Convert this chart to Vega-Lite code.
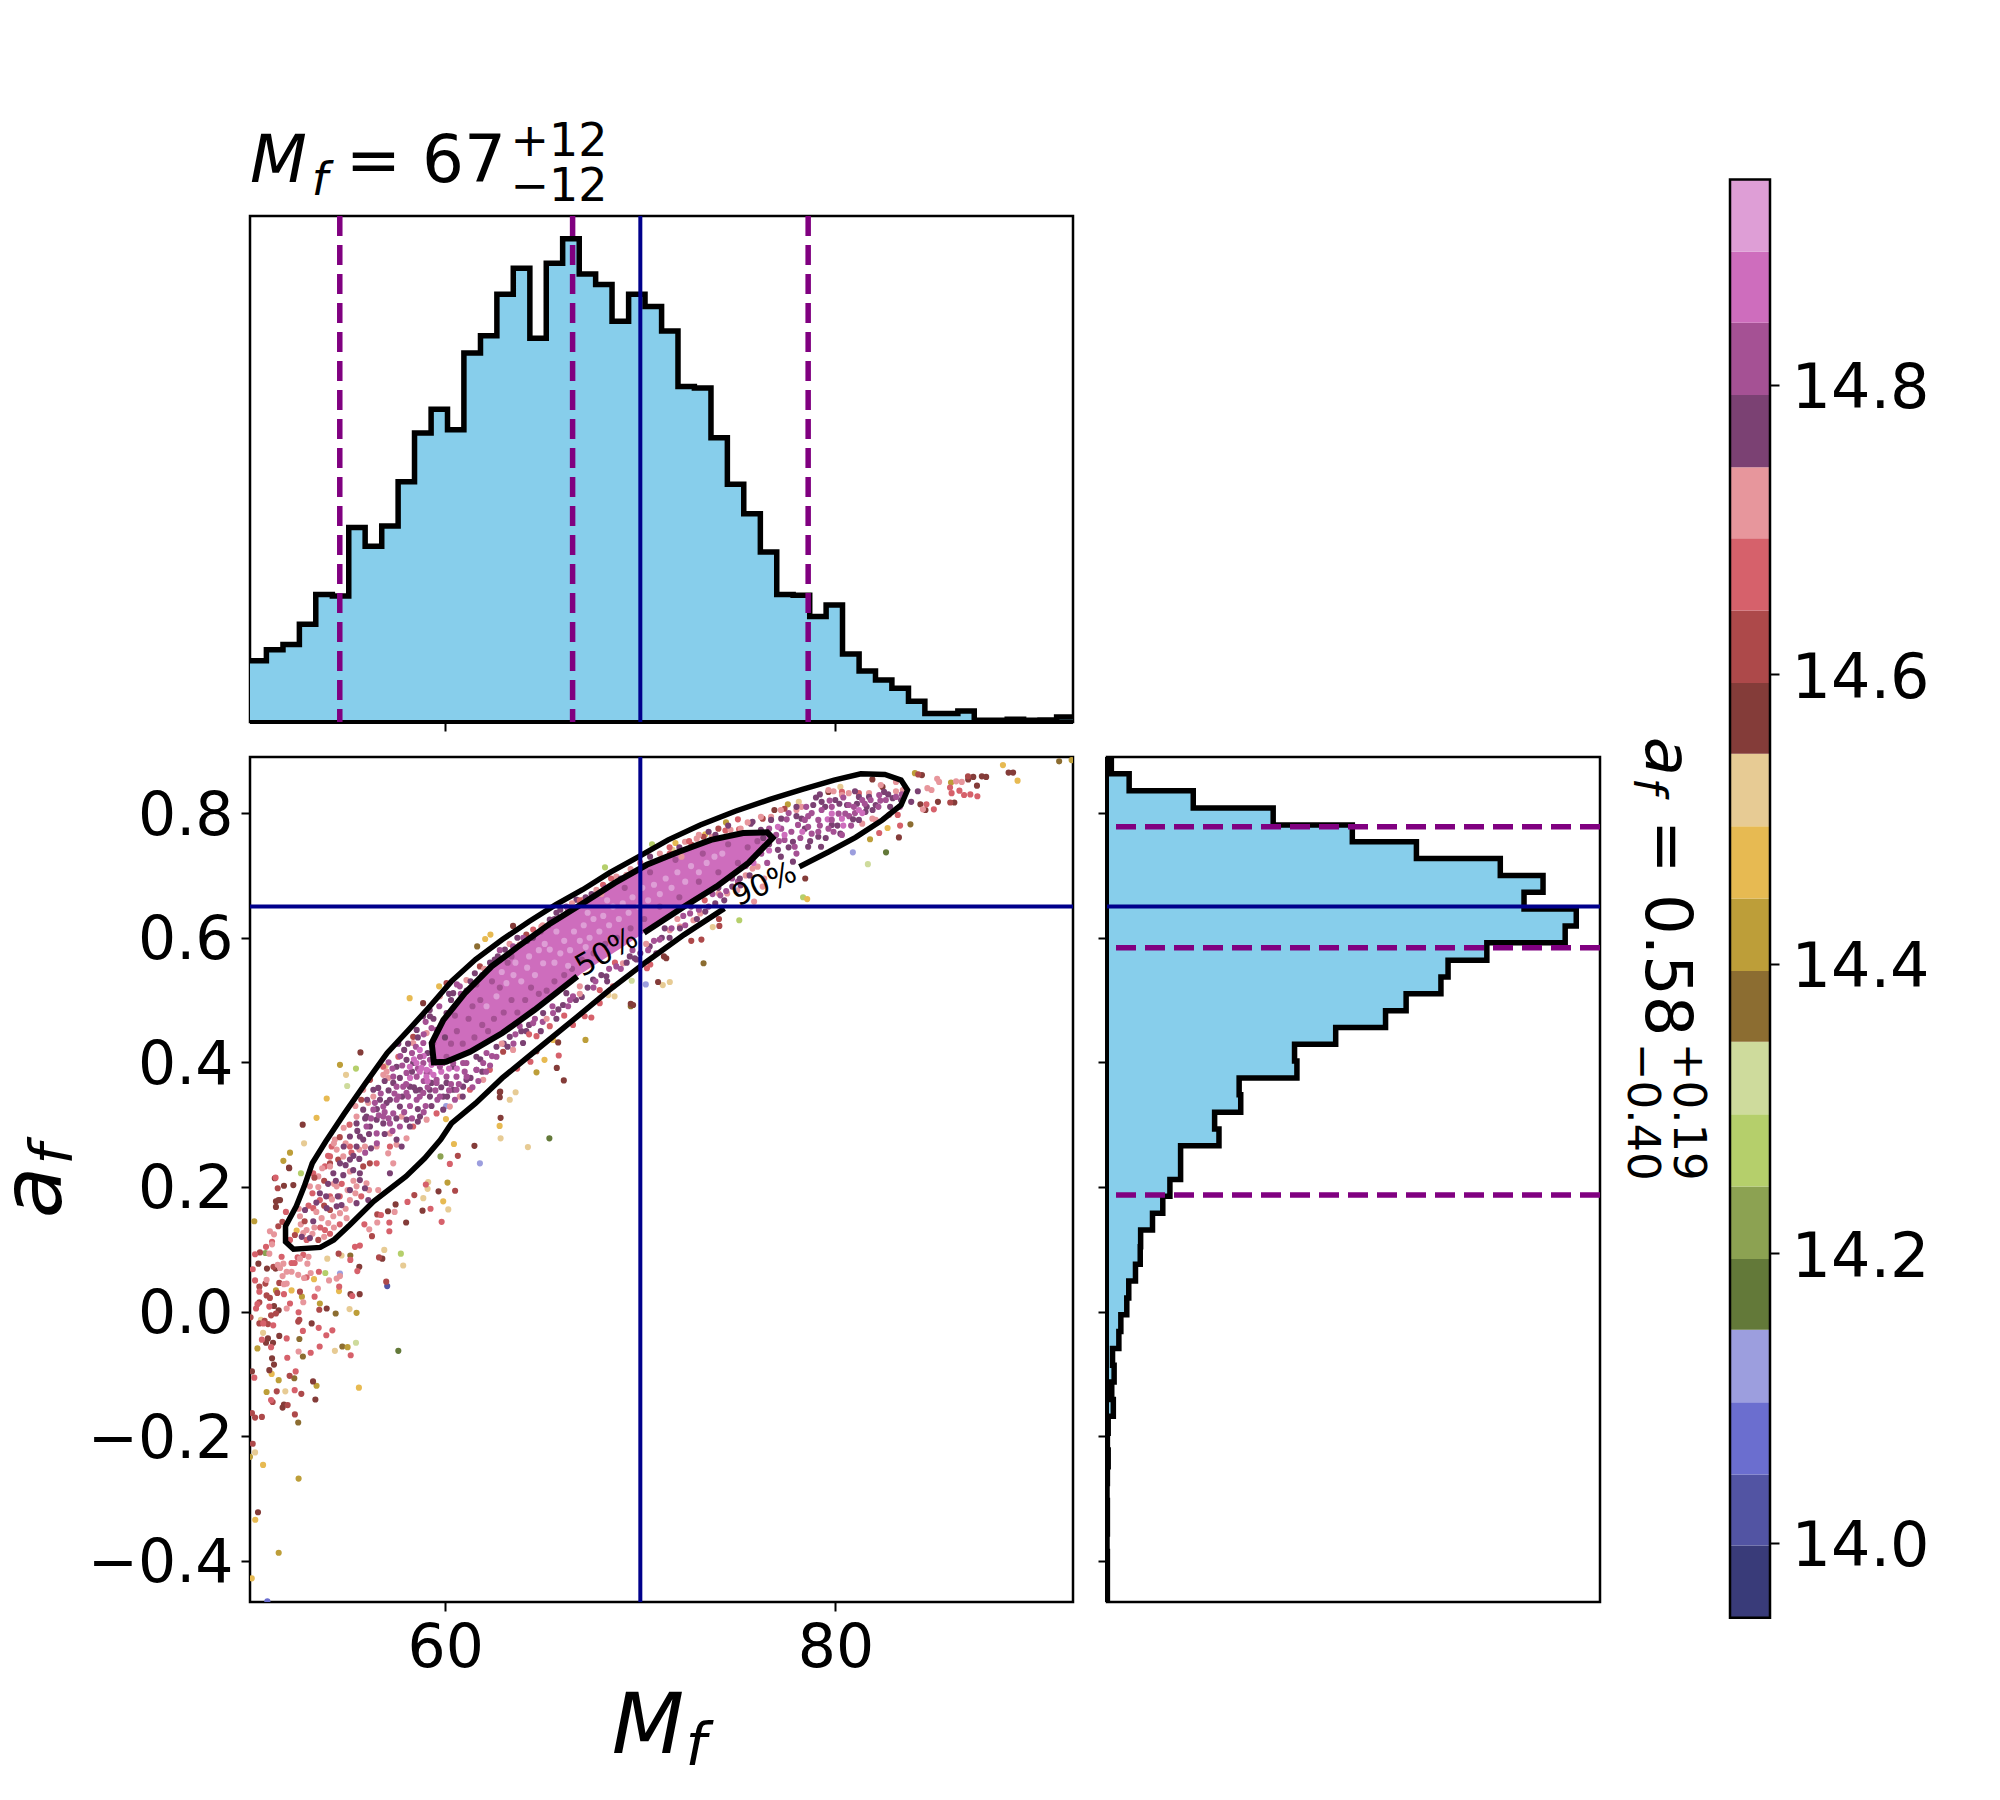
{
"$schema":"https://vega.github.io/schema/vega-lite/v6.json",
"background":"white",
"autosize":{"type":"none"},
"padding":{"left":250,"top":216,"right":1750,"bottom":1584},
"bounds":"flush",
"spacing":1480,
"datasets":{
"histM":[{"m":50.00,"c":150},{"m":50.84,"c":177},{"m":51.69,"c":190},{"m":52.53,"c":240},{"m":53.37,"c":313},{"m":54.22,"c":309},{"m":55.06,"c":477},{"m":55.90,"c":431},{"m":56.75,"c":481},{"m":57.59,"c":589},{"m":58.43,"c":709},{"m":59.28,"c":767},{"m":60.12,"c":717},{"m":60.96,"c":905},{"m":61.81,"c":947},{"m":62.65,"c":1049},{"m":63.49,"c":1113},{"m":64.34,"c":941},{"m":65.18,"c":1125},{"m":66.02,"c":1185},{"m":66.87,"c":1099},{"m":67.71,"c":1073},{"m":68.55,"c":983},{"m":69.40,"c":1049},{"m":70.24,"c":1019},{"m":71.09,"c":959},{"m":71.93,"c":823},{"m":72.77,"c":819},{"m":73.62,"c":697},{"m":74.46,"c":583},{"m":75.30,"c":511},{"m":76.15,"c":417},{"m":76.99,"c":313},{"m":77.83,"c":311},{"m":78.68,"c":259},{"m":79.52,"c":287},{"m":80.36,"c":167},{"m":81.21,"c":125},{"m":82.05,"c":103},{"m":82.89,"c":83},{"m":83.74,"c":51},{"m":84.58,"c":21},{"m":85.42,"c":21},{"m":86.27,"c":27},{"m":87.11,"c":4},{"m":87.95,"c":4},{"m":88.80,"c":7},{"m":89.64,"c":4},{"m":90.48,"c":5},{"m":91.33,"c":12},{"m":92.17,"c":12}],
"histA":[{"a":-0.466,"c":1},{"a":-0.439,"c":1},{"a":-0.412,"c":1},{"a":-0.385,"c":0},{"a":-0.357,"c":1},{"a":-0.330,"c":1},{"a":-0.303,"c":0},{"a":-0.276,"c":1},{"a":-0.249,"c":3},{"a":-0.222,"c":1},{"a":-0.195,"c":3},{"a":-0.168,"c":16},{"a":-0.141,"c":12},{"a":-0.113,"c":18},{"a":-0.086,"c":14},{"a":-0.059,"c":30},{"a":-0.032,"c":35},{"a":-0.005,"c":50},{"a":0.022,"c":55},{"a":0.049,"c":72},{"a":0.076,"c":84},{"a":0.104,"c":85},{"a":0.131,"c":115},{"a":0.158,"c":141},{"a":0.185,"c":159},{"a":0.212,"c":186},{"a":0.239,"c":186},{"a":0.266,"c":283},{"a":0.293,"c":272},{"a":0.320,"c":338},{"a":0.348,"c":334},{"a":0.375,"c":480},{"a":0.402,"c":474},{"a":0.429,"c":578},{"a":0.456,"c":704},{"a":0.483,"c":756},{"a":0.510,"c":844},{"a":0.537,"c":862},{"a":0.564,"c":960},{"a":0.592,"c":1158},{"a":0.619,"c":1186},{"a":0.646,"c":1054},{"a":0.673,"c":1102},{"a":0.700,"c":994},{"a":0.727,"c":782},{"a":0.754,"c":620},{"a":0.781,"c":420},{"a":0.808,"c":218},{"a":0.836,"c":56},{"a":0.863,"c":11},{"a":0.89,"c":11}],
"outer":[{"i":0,"m":78.15,"a":0.714},{"i":1,"m":79.66,"a":0.738},{"i":2,"m":81.03,"a":0.761},{"i":3,"m":82.40,"a":0.789},{"i":4,"m":83.36,"a":0.813},{"i":5,"m":83.69,"a":0.837},{"i":6,"m":83.36,"a":0.853},{"i":7,"m":82.53,"a":0.862},{"i":8,"m":81.30,"a":0.863},{"i":9,"m":79.93,"a":0.853},{"i":10,"m":78.30,"a":0.838},{"i":11,"m":76.64,"a":0.822},{"i":12,"m":74.86,"a":0.803},{"i":13,"m":73.07,"a":0.781},{"i":14,"m":71.43,"a":0.757},{"i":15,"m":69.92,"a":0.730},{"i":16,"m":68.41,"a":0.704},{"i":17,"m":67.04,"a":0.677},{"i":18,"m":65.67,"a":0.653},{"i":19,"m":64.30,"a":0.626},{"i":20,"m":62.93,"a":0.597},{"i":21,"m":61.55,"a":0.565},{"i":22,"m":60.32,"a":0.530},{"i":23,"m":59.22,"a":0.490},{"i":24,"m":58.13,"a":0.452},{"i":25,"m":57.03,"a":0.415},{"i":26,"m":55.93,"a":0.367},{"i":27,"m":54.84,"a":0.318},{"i":28,"m":53.88,"a":0.273},{"i":29,"m":53.19,"a":0.238},{"i":30,"m":52.78,"a":0.201},{"i":31,"m":52.37,"a":0.169},{"i":32,"m":51.82,"a":0.137},{"i":33,"m":51.82,"a":0.112},{"i":34,"m":52.23,"a":0.100},{"i":35,"m":53.60,"a":0.103},{"i":36,"m":54.29,"a":0.115},{"i":37,"m":55.11,"a":0.139},{"i":38,"m":56.34,"a":0.177},{"i":39,"m":57.99,"a":0.217},{"i":40,"m":58.95,"a":0.246},{"i":41,"m":59.77,"a":0.276},{"i":42,"m":60.32,"a":0.302},{"i":43,"m":61.55,"a":0.334},{"i":44,"m":62.93,"a":0.375},{"i":45,"m":64.57,"a":0.417},{"i":46,"m":66.49,"a":0.466},{"i":47,"m":68.41,"a":0.516},{"i":48,"m":70.33,"a":0.562},{"i":49,"m":72.25,"a":0.605},{"i":50,"m":74.31,"a":0.647}],
"inner":[{"i":0,"m":70.19,"a":0.608},{"i":1,"m":72.25,"a":0.650},{"i":2,"m":73.90,"a":0.682},{"i":3,"m":75.54,"a":0.720},{"i":4,"m":76.78,"a":0.760},{"i":5,"m":76.50,"a":0.769},{"i":6,"m":75.27,"a":0.768},{"i":7,"m":73.62,"a":0.757},{"i":8,"m":71.98,"a":0.738},{"i":9,"m":70.33,"a":0.717},{"i":10,"m":68.69,"a":0.688},{"i":11,"m":67.04,"a":0.655},{"i":12,"m":65.39,"a":0.623},{"i":13,"m":63.75,"a":0.586},{"i":14,"m":62.38,"a":0.554},{"i":15,"m":61.01,"a":0.511},{"i":16,"m":59.91,"a":0.468},{"i":17,"m":59.31,"a":0.431},{"i":18,"m":59.42,"a":0.400},{"i":19,"m":60.05,"a":0.401},{"i":20,"m":61.28,"a":0.417},{"i":21,"m":62.93,"a":0.447},{"i":22,"m":64.57,"a":0.484},{"i":23,"m":66.77,"a":0.538}],
"core":[{"m":59.35,"a":0.405,"hi":0.44},{"m":60,"a":0.401,"hi":0.472},{"m":61,"a":0.413,"hi":0.511},{"m":62,"a":0.434,"hi":0.541},{"m":63,"a":0.449,"hi":0.568},{"m":64,"a":0.471,"hi":0.592},{"m":65,"a":0.495,"hi":0.615},{"m":66,"a":0.519,"hi":0.639},{"m":67,"a":0.543,"hi":0.655},{"m":68,"a":0.563,"hi":0.675},{"m":69,"a":0.583,"hi":0.693},{"m":70,"a":0.604,"hi":0.714},{"m":71,"a":0.626,"hi":0.727},{"m":72,"a":0.647,"hi":0.74},{"m":73,"a":0.665,"hi":0.751},{"m":74,"a":0.684,"hi":0.76},{"m":75,"a":0.705,"hi":0.766},{"m":76,"a":0.735,"hi":0.769},{"m":76.7,"a":0.757,"hi":0.768}],
"bands":[{"lo":13.948,"hi":13.998,"z":13.97},{"lo":13.998,"hi":14.047,"z":14.02},{"lo":14.047,"hi":14.097,"z":14.07},{"lo":14.097,"hi":14.147,"z":14.12},{"lo":14.147,"hi":14.196,"z":14.17},{"lo":14.196,"hi":14.246,"z":14.22},{"lo":14.246,"hi":14.296,"z":14.27},{"lo":14.296,"hi":14.346,"z":14.32},{"lo":14.346,"hi":14.395,"z":14.37},{"lo":14.395,"hi":14.445,"z":14.42},{"lo":14.445,"hi":14.495,"z":14.47},{"lo":14.495,"hi":14.545,"z":14.52},{"lo":14.545,"hi":14.594,"z":14.57},{"lo":14.594,"hi":14.644,"z":14.62},{"lo":14.644,"hi":14.694,"z":14.67},{"lo":14.694,"hi":14.743,"z":14.72},{"lo":14.743,"hi":14.793,"z":14.77},{"lo":14.793,"hi":14.843,"z":14.82},{"lo":14.843,"hi":14.892,"z":14.87},{"lo":14.892,"hi":14.942,"z":14.92}],
"pts":[
{"m":57.03,"a":0.041,"z":14.02},{"m":50.89,"a":-0.465,"z":14.07},{"m":54.61,"a":0.061,"z":14.12},{"m":61.78,"a":0.238,"z":14.12},{"m":80.89,"a":0.737,"z":14.12},{"m":70.28,"a":0.525,"z":14.12},{"m":60.05,"a":0.33,"z":14.12},{"m":57.6,"a":-0.063,"z":14.17},{"m":82.59,"a":0.737,"z":14.17},{"m":65.34,"a":0.278,"z":14.17},{"m":50.79,"a":0.094,"z":14.22},{"m":59.76,"a":0.249,"z":14.22},
{"m":53.86,"a":0.062,"z":14.27},{"m":57.73,"a":0.093,"z":14.27},{"m":52.61,"a":0.222,"z":14.27},{"m":68.19,"a":0.713,"z":14.27},{"m":75.07,"a":0.628,"z":14.27},{"m":78.34,"a":0.665,"z":14.27},{"m":70.6,"a":0.75,"z":14.27},{"m":55.43,"a":0.39,"z":14.27},{"m":55.43,"a":-0.05,"z":14.32},{"m":81.66,"a":0.718,"z":14.32},{"m":69.56,"a":0.531,"z":14.32},{"m":54.98,"a":0.362,"z":14.32},
{"m":52.47,"a":-0.178,"z":14.37},{"m":52.27,"a":-0.107,"z":14.37},{"m":52.53,"a":-0.044,"z":14.37},{"m":52.71,"a":-0.072,"z":14.37},{"m":54.39,"a":-0.003,"z":14.37},{"m":54.73,"a":-0.056,"z":14.37},{"m":55.14,"a":0.09,"z":14.37},{"m":73.24,"a":0.559,"z":14.37},{"m":69.51,"a":0.49,"z":14.37},{"m":61.64,"a":0.586,"z":14.37},{"m":91.46,"a":0.883,"z":14.37},{"m":83.84,"a":0.782,"z":14.37},
{"m":50,"a":-0.233,"z":14.42},{"m":52.49,"a":-0.268,"z":14.42},{"m":51.47,"a":-0.387,"z":14.42},{"m":51.47,"a":-0.11,"z":14.42},{"m":50.85,"a":-0.129,"z":14.42},{"m":50.38,"a":-0.059,"z":14.42},{"m":53.41,"a":-0.119,"z":14.42},{"m":55,"a":-0.057,"z":14.42},{"m":55.46,"a":-0.002,"z":14.42},{"m":53.58,"a":0.013,"z":14.42},{"m":52.66,"a":0.024,"z":14.42},{"m":51.33,"a":0.034,"z":14.42},{"m":50.22,"a":0.145,"z":14.42},{"m":51.71,"a":0.242,"z":14.42},{"m":52.05,"a":0.255,"z":14.42},{"m":60.12,"a":0.207,"z":14.42},{"m":54.61,"a":0.396,"z":14.42},{"m":74.39,"a":0.785,"z":14.42},{"m":81.77,"a":0.758,"z":14.42},{"m":84.07,"a":0.864,"z":14.42},{"m":85.92,"a":0.849,"z":14.42},{"m":77.56,"a":0.814,"z":14.42},{"m":67.19,"a":0.436,"z":14.42},{"m":64.68,"a":0.384,"z":14.42},{"m":92.1,"a":0.885,"z":14.42},
{"m":50.67,"a":-0.246,"z":14.47},{"m":50.27,"a":-0.334,"z":14.47},{"m":50.09,"a":-0.428,"z":14.47},{"m":55.58,"a":-0.122,"z":14.47},{"m":51.11,"a":-0.1,"z":14.47},{"m":52.13,"a":0.034,"z":14.47},{"m":53.28,"a":0.052,"z":14.47},{"m":54.56,"a":0.033,"z":14.47},{"m":59.9,"a":0.177,"z":14.47},{"m":58.18,"a":0.503,"z":14.47},{"m":53.93,"a":0.342,"z":14.47},{"m":53.41,"a":0.311,"z":14.47},{"m":62.05,"a":0.598,"z":14.47},{"m":62.32,"a":0.605,"z":14.47},{"m":62.79,"a":0.298,"z":14.47},{"m":60.04,"a":0.309,"z":14.47},{"m":60.45,"a":0.269,"z":14.47},{"m":52.39,"a":0.13,"z":14.47},{"m":88.58,"a":0.877,"z":14.47},{"m":89.33,"a":0.852,"z":14.47},{"m":82.67,"a":0.776,"z":14.47},{"m":78.55,"a":0.662,"z":14.47},{"m":71.8,"a":0.752,"z":14.47},{"m":73.33,"a":0.766,"z":14.47},{"m":65.53,"a":0.436,"z":14.47},{"m":65.09,"a":0.404,"z":14.47},{"m":59.69,"a":0.522,"z":14.47},
{"m":50.26,"a":-0.226,"z":14.52},{"m":54.35,"a":-0.063,"z":14.52},{"m":51.81,"a":-0.128,"z":14.52},{"m":55.1,"a":0.004,"z":14.52},{"m":50.56,"a":-0.013,"z":14.52},{"m":50.67,"a":-0.034,"z":14.52},{"m":57.85,"a":0.074,"z":14.52},{"m":56.88,"a":0.099,"z":14.52},{"m":53.96,"a":0.085,"z":14.52},{"m":54.69,"a":0.09,"z":14.52},{"m":60.16,"a":0.164,"z":14.52},{"m":58.88,"a":0.182,"z":14.52},{"m":59.1,"a":0.197,"z":14.52},{"m":59.13,"a":0.208,"z":14.52},{"m":64.24,"a":0.264,"z":14.52},{"m":62.84,"a":0.278,"z":14.52},{"m":63.61,"a":0.352,"z":14.52},{"m":54.92,"a":0.38,"z":14.52},{"m":56.95,"a":0.394,"z":14.52},{"m":71.15,"a":0.524,"z":14.52},{"m":71.51,"a":0.529,"z":14.52},{"m":68.36,"a":0.508,"z":14.52},{"m":68.68,"a":0.506,"z":14.52},{"m":78.12,"a":0.818,"z":14.52},{"m":80.25,"a":0.842,"z":14.52},{"m":71.65,"a":0.741,"z":14.52},{"m":73.71,"a":0.617,"z":14.52},{"m":52.77,"a":0.27,"z":14.52},{"m":63.31,"a":0.34,"z":14.52},
{"m":50.41,"a":-0.322,"z":14.57},{"m":50.1,"a":-0.096,"z":14.57},{"m":50.99,"a":-0.094,"z":14.57},{"m":51.23,"a":-0.085,"z":14.57},{"m":51.13,"a":-0.075,"z":14.57},{"m":51.67,"a":-0.154,"z":14.57},{"m":51.74,"a":-0.149,"z":14.57},{"m":53.23,"a":-0.112,"z":14.57},{"m":53.35,"a":-0.141,"z":14.57},{"m":50.82,"a":-0.05,"z":14.57},{"m":50.92,"a":-0.043,"z":14.57},{"m":51.18,"a":-0.05,"z":14.57},{"m":51.5,"a":-0.039,"z":14.57},{"m":53.16,"a":-0.019,"z":14.57},{"m":53.93,"a":0.005,"z":14.57},{"m":51.23,"a":0.009,"z":14.57},{"m":51.47,"a":0.002,"z":14.57},{"m":55.15,"a":0.028,"z":14.57},{"m":55.62,"a":0.028,"z":14.57},{"m":56.78,"a":0.085,"z":14.57},{"m":55.6,"a":0.072,"z":14.57},{"m":50.43,"a":0.077,"z":14.57},{"m":50.87,"a":0.069,"z":14.57},{"m":51.31,"a":0.069,"z":14.57},{"m":58,"a":0.143,"z":14.57},{"m":58.84,"a":0.162,"z":14.57},{"m":57.07,"a":0.161,"z":14.57},{"m":57.46,"a":0.172,"z":14.57},{"m":59.66,"a":0.193,"z":14.57},{"m":52,"a":0.231,"z":14.57},{"m":51.74,"a":0.202,"z":14.57},{"m":52.22,"a":0.203,"z":14.57},{"m":51.33,"a":0.177,"z":14.57},{"m":51.54,"a":0.179,"z":14.57},{"m":51.33,"a":0.168,"z":14.57},{"m":55.66,"a":0.416,"z":14.57},{"m":52.7,"a":0.3,"z":14.57},{"m":52.01,"a":0.23,"z":14.57},{"m":51.27,"a":0.214,"z":14.57},{"m":51.46,"a":0.179,"z":14.57},{"m":61.5,"a":0.266,"z":14.57},{"m":66.08,"a":0.371,"z":14.57},{"m":65.72,"a":0.391,"z":14.57},{"m":62.82,"a":0.353,"z":14.57},{"m":62.84,"a":0.311,"z":14.57},{"m":69.51,"a":0.494,"z":14.57},{"m":83.25,"a":0.761,"z":14.57},{"m":88.87,"a":0.865,"z":14.57},{"m":87.5,"a":0.859,"z":14.57},{"m":87.06,"a":0.858,"z":14.57},{"m":86.8,"a":0.854,"z":14.57},{"m":87.72,"a":0.858,"z":14.57},{"m":87.25,"a":0.844,"z":14.57},{"m":86.09,"a":0.817,"z":14.57},{"m":85.25,"a":0.818,"z":14.57},{"m":84.61,"a":0.805,"z":14.57},{"m":84.35,"a":0.814,"z":14.57},{"m":84.43,"a":0.861,"z":14.57},{"m":89.1,"a":0.865,"z":14.57},{"m":78.45,"a":0.695,"z":14.57},{"m":64.68,"a":0.418,"z":14.57},{"m":62.8,"a":0.352,"z":14.57},{"m":62.8,"a":0.344,"z":14.57},{"m":69.63,"a":0.492,"z":14.57},{"m":58.87,"a":0.495,"z":14.57},{"m":63.48,"a":0.619,"z":14.57},{"m":71.33,"a":0.567,"z":14.57},{"m":71.21,"a":0.57,"z":14.57},{"m":70.91,"a":0.529,"z":14.57},{"m":65.79,"a":0.432,"z":14.57},{"m":76.87,"a":0.805,"z":14.57},{"m":79.64,"a":0.834,"z":14.57},{"m":81.89,"a":0.854,"z":14.57},{"m":82.41,"a":0.842,"z":14.57},
{"m":50.14,"a":-0.212,"z":14.62},{"m":50.1,"a":-0.163,"z":14.62},{"m":50.26,"a":-0.17,"z":14.62},{"m":50.61,"a":-0.169,"z":14.62},{"m":52.3,"a":-0.165,"z":14.62},{"m":51.37,"a":-0.128,"z":14.62},{"m":52.63,"a":-0.132,"z":14.62},{"m":52.03,"a":-0.103,"z":14.62},{"m":51.93,"a":-0.15,"z":14.62},{"m":51.16,"a":-0.145,"z":14.62},{"m":50.48,"a":0.04,"z":14.62},{"m":50.48,"a":-0.019,"z":14.62},{"m":50.92,"a":-0.02,"z":14.62},{"m":50.75,"a":-0.015,"z":14.62},{"m":52.47,"a":-0.016,"z":14.62},{"m":52.53,"a":-0.013,"z":14.62},{"m":53.55,"a":0.003,"z":14.62},{"m":50.03,"a":-0.009,"z":14.62},{"m":50.48,"a":0.015,"z":14.62},{"m":51.08,"a":-0.006,"z":14.62},{"m":51.33,"a":-0.003,"z":14.62},{"m":50.79,"a":0.045,"z":14.62},{"m":51.5,"a":0.046,"z":14.62},{"m":51.4,"a":0.03,"z":14.62},{"m":50.85,"a":0.026,"z":14.62},{"m":51.02,"a":0.022,"z":14.62},{"m":52.56,"a":0.032,"z":14.62},{"m":56.98,"a":0.048,"z":14.62},{"m":50.51,"a":0.095,"z":14.62},{"m":51.2,"a":0.072,"z":14.62},{"m":56.61,"a":0.087,"z":14.62},{"m":54.54,"a":0.093,"z":14.62},{"m":56.25,"a":0.121,"z":14.62},{"m":56.52,"a":0.156,"z":14.62},{"m":60.65,"a":0.25,"z":14.62},{"m":60.51,"a":0.194,"z":14.62},{"m":58.42,"a":0.187,"z":14.62},{"m":51.66,"a":0.144,"z":14.62},{"m":51.45,"a":0.137,"z":14.62},{"m":51.42,"a":0.198,"z":14.62},{"m":84.24,"a":0.862,"z":14.62},{"m":86.79,"a":0.859,"z":14.62},{"m":85.88,"a":0.817,"z":14.62},{"m":73.13,"a":0.597,"z":14.62},{"m":72.61,"a":0.595,"z":14.62},{"m":74.03,"a":0.63,"z":14.62},{"m":74.05,"a":0.619,"z":14.62},{"m":52.3,"a":0.123,"z":14.62},{"m":54.1,"a":0.163,"z":14.62},{"m":54.52,"a":0.244,"z":14.62},{"m":54.1,"a":0.238,"z":14.62},{"m":55.8,"a":0.233,"z":14.62},{"m":56.14,"a":0.238,"z":14.62},{"m":58.36,"a":0.441,"z":14.62},{"m":56.15,"a":0.372,"z":14.62},{"m":60.07,"a":0.527,"z":14.62},{"m":61.78,"a":0.554,"z":14.62},{"m":64.16,"a":0.605,"z":14.62},{"m":62.97,"a":0.417,"z":14.62},{"m":72.63,"a":0.749,"z":14.62},{"m":73.24,"a":0.762,"z":14.62},{"m":76.27,"a":0.791,"z":14.62},{"m":77.39,"a":0.807,"z":14.62},
{"m":50.22,"a":-0.106,"z":14.67},{"m":52.34,"a":-0.096,"z":14.67},{"m":51.08,"a":-0.142,"z":14.67},{"m":52.29,"a":-0.126,"z":14.67},{"m":50.61,"a":-0.045,"z":14.67},{"m":51.08,"a":-0.057,"z":14.67},{"m":51.91,"a":-0.074,"z":14.67},{"m":53.11,"a":-0.066,"z":14.67},{"m":53.57,"a":-0.056,"z":14.67},{"m":55.16,"a":-0.07,"z":14.67},{"m":51.88,"a":-0.043,"z":14.67},{"m":53.91,"a":-0.038,"z":14.67},{"m":54.22,"a":-0.03,"z":14.67},{"m":53.52,"a":-0.026,"z":14.67},{"m":52.71,"a":-0.031,"z":14.67},{"m":50.68,"a":-0.019,"z":14.67},{"m":51.19,"a":-0.022,"z":14.67},{"m":52.49,"a":-0.001,"z":14.67},{"m":50.31,"a":0.005,"z":14.67},{"m":50.38,"a":0.012,"z":14.67},{"m":50.99,"a":0.008,"z":14.67},{"m":52.05,"a":0.013,"z":14.67},{"m":50.26,"a":0.05,"z":14.67},{"m":50.48,"a":0.032,"z":14.67},{"m":51.74,"a":0.028,"z":14.67},{"m":53.31,"a":0.024,"z":14.67},{"m":54.57,"a":0.04,"z":14.67},{"m":55.24,"a":0.025,"z":14.67},{"m":50.14,"a":0.068,"z":14.67},{"m":50.26,"a":0.092,"z":14.67},{"m":51.62,"a":0.088,"z":14.67},{"m":52.13,"a":0.078,"z":14.67},{"m":52.29,"a":0.078,"z":14.67},{"m":52.44,"a":0.087,"z":14.67},{"m":52.73,"a":0.091,"z":14.67},{"m":52.9,"a":0.055,"z":14.67},{"m":53.53,"a":0.064,"z":14.67},{"m":55.14,"a":0.083,"z":14.67},{"m":55.5,"a":0.065,"z":14.67},{"m":50.82,"a":0.104,"z":14.67},{"m":51.13,"a":0.112,"z":14.67},{"m":55.38,"a":0.104,"z":14.67},{"m":55.63,"a":0.106,"z":14.67},{"m":57.14,"a":0.129,"z":14.67},{"m":55.86,"a":0.14,"z":14.67},{"m":57.14,"a":0.143,"z":14.67},{"m":59.82,"a":0.144,"z":14.67},{"m":59.25,"a":0.165,"z":14.67},{"m":56.71,"a":0.155,"z":14.67},{"m":58.07,"a":0.176,"z":14.67},{"m":59.01,"a":0.204,"z":14.67},{"m":60.24,"a":0.237,"z":14.67},{"m":51.31,"a":0.215,"z":14.67},{"m":51.84,"a":0.16,"z":14.67},{"m":86.59,"a":0.829,"z":14.67},{"m":86.91,"a":0.83,"z":14.67},{"m":87.27,"a":0.827,"z":14.67},{"m":85.95,"a":0.832,"z":14.67},{"m":85.87,"a":0.841,"z":14.67},{"m":86.35,"a":0.836,"z":14.67},{"m":85.04,"a":0.806,"z":14.67},{"m":84.66,"a":0.814,"z":14.67},{"m":83.31,"a":0.78,"z":14.67},{"m":83.19,"a":0.797,"z":14.67},{"m":82.24,"a":0.768,"z":14.67},{"m":70.34,"a":0.551,"z":14.67},{"m":70.51,"a":0.557,"z":14.67},{"m":67.92,"a":0.495,"z":14.67},{"m":67.49,"a":0.472,"z":14.67},{"m":67.15,"a":0.474,"z":14.67},{"m":66.55,"a":0.46,"z":14.67},{"m":65.82,"a":0.411,"z":14.67},{"m":64.37,"a":0.401,"z":14.67},{"m":63.69,"a":0.39,"z":14.67},{"m":53.24,"a":0.166,"z":14.67},{"m":53.84,"a":0.131,"z":14.67},{"m":52.05,"a":0.115,"z":14.67},{"m":53.58,"a":0.179,"z":14.67},{"m":53.24,"a":0.222,"z":14.67},{"m":54.1,"a":0.249,"z":14.67},{"m":55.12,"a":0.265,"z":14.67},{"m":54.18,"a":0.265,"z":14.67},{"m":53.84,"a":0.233,"z":14.67},{"m":54.1,"a":0.185,"z":14.67},{"m":56.49,"a":0.238,"z":14.67},{"m":57.17,"a":0.265,"z":14.67},{"m":58.36,"a":0.297,"z":14.67},{"m":59.56,"a":0.318,"z":14.67},{"m":61.27,"a":0.356,"z":14.67},{"m":57.6,"a":0.409,"z":14.67},{"m":56.83,"a":0.393,"z":14.67},{"m":64.51,"a":0.613,"z":14.67},{"m":68.09,"a":0.685,"z":14.67},{"m":65.36,"a":0.458,"z":14.67},{"m":64.68,"a":0.442,"z":14.67},{"m":67.92,"a":0.516,"z":14.67},{"m":68.6,"a":0.522,"z":14.67},{"m":62.29,"a":0.388,"z":14.67},{"m":71.51,"a":0.735,"z":14.67},{"m":74.36,"a":0.772,"z":14.67},{"m":75.06,"a":0.774,"z":14.67},{"m":80.33,"a":0.834,"z":14.67},{"m":81.2,"a":0.832,"z":14.67},
{"m":52.49,"a":-0.064,"z":14.72},{"m":52.73,"a":0.015,"z":14.72},{"m":53.48,"a":0.037,"z":14.72},{"m":51.88,"a":0.005,"z":14.72},{"m":50.85,"a":0.051,"z":14.72},{"m":51.74,"a":0.044,"z":14.72},{"m":51.88,"a":0.045,"z":14.72},{"m":50.99,"a":0.093,"z":14.72},{"m":51.42,"a":0.075,"z":14.72},{"m":51.54,"a":0.07,"z":14.72},{"m":51.71,"a":0.077,"z":14.72},{"m":51.88,"a":0.064,"z":14.72},{"m":52.56,"a":0.085,"z":14.72},{"m":52.94,"a":0.077,"z":14.72},{"m":53,"a":0.088,"z":14.72},{"m":51.67,"a":0.057,"z":14.72},{"m":52.13,"a":0.064,"z":14.72},{"m":52.47,"a":0.059,"z":14.72},{"m":52.77,"a":0.054,"z":14.72},{"m":53.11,"a":0.062,"z":14.72},{"m":54.05,"a":0.05,"z":14.72},{"m":54.44,"a":0.053,"z":14.72},{"m":54.61,"a":0.057,"z":14.72},{"m":51.02,"a":0.129,"z":14.72},{"m":51.23,"a":0.124,"z":14.72},{"m":51.13,"a":0.108,"z":14.72},{"m":56.11,"a":0.132,"z":14.72},{"m":56.52,"a":0.143,"z":14.72},{"m":57.41,"a":0.16,"z":14.72},{"m":85.21,"a":0.855,"z":14.72},{"m":85.31,"a":0.85,"z":14.72},{"m":86.18,"a":0.851,"z":14.72},{"m":86.47,"a":0.85,"z":14.72},{"m":84.71,"a":0.84,"z":14.72},{"m":84.92,"a":0.837,"z":14.72},{"m":84.48,"a":0.806,"z":14.72},
{"m":52.73,"a":0.126,"z":14.72},{"m":53.67,"a":0.15,"z":14.72},{"m":54.01,"a":0.142,"z":14.72},{"m":52.56,"a":0.153,"z":14.72},{"m":52.9,"a":0.131,"z":14.72},{"m":54.27,"a":0.153,"z":14.72},{"m":54.95,"a":0.15,"z":14.72},{"m":54.61,"a":0.158,"z":14.72},{"m":53.07,"a":0.201,"z":14.72},{"m":53.5,"a":0.217,"z":14.72},{"m":54.1,"a":0.233,"z":14.72},{"m":54.44,"a":0.26,"z":14.72},{"m":54.78,"a":0.249,"z":14.72},{"m":55.12,"a":0.225,"z":14.72},{"m":55.46,"a":0.201,"z":14.72},{"m":55.97,"a":0.206,"z":14.72},{"m":56.57,"a":0.195,"z":14.72},{"m":57.34,"a":0.238,"z":14.72},{"m":57.08,"a":0.254,"z":14.72},{"m":55.46,"a":0.313,"z":14.72},{"m":56.06,"a":0.335,"z":14.72},{"m":56.32,"a":0.345,"z":14.72},{"m":56.83,"a":0.38,"z":14.72},{"m":57.08,"a":0.375,"z":14.72},{"m":55.8,"a":0.356,"z":14.72},{"m":54.35,"a":0.276,"z":14.72},{"m":54.44,"a":0.201,"z":14.72},{"m":55.12,"a":0.179,"z":14.72},{"m":55.89,"a":0.265,"z":14.72},{"m":57.51,"a":0.268,"z":14.72},{"m":58.02,"a":0.278,"z":14.72},{"m":59.05,"a":0.308,"z":14.72},{"m":60.24,"a":0.329,"z":14.72},{"m":60.75,"a":0.345,"z":14.72},{"m":61.95,"a":0.372,"z":14.72},{"m":57.77,"a":0.313,"z":14.72},{"m":57.17,"a":0.286,"z":14.72},{"m":56.49,"a":0.265,"z":14.72},{"m":57,"a":0.385,"z":14.72},{"m":58.36,"a":0.431,"z":14.72},{"m":59.05,"a":0.447,"z":14.72},{"m":59.73,"a":0.506,"z":14.72},{"m":61.09,"a":0.532,"z":14.72},{"m":63.82,"a":0.589,"z":14.72},{"m":64.93,"a":0.618,"z":14.72},{"m":67.07,"a":0.661,"z":14.72},{"m":67.75,"a":0.677,"z":14.72},{"m":68.77,"a":0.698,"z":14.72},{"m":69.29,"a":0.701,"z":14.72},{"m":63.48,"a":0.42,"z":14.72},{"m":66.9,"a":0.522,"z":14.72},{"m":69.11,"a":0.559,"z":14.72},{"m":81.37,"a":0.783,"z":14.72},{"m":82.06,"a":0.789,"z":14.72},{"m":81.89,"a":0.791,"z":14.72},{"m":82.75,"a":0.797,"z":14.72},{"m":83.45,"a":0.837,"z":14.72},{"m":83.1,"a":0.85,"z":14.72},{"m":82.32,"a":0.845,"z":14.72},{"m":81.72,"a":0.832,"z":14.72},{"m":80.68,"a":0.832,"z":14.72},{"m":80.33,"a":0.829,"z":14.72},{"m":79.64,"a":0.837,"z":14.72},{"m":78.26,"a":0.81,"z":14.72},{"m":78,"a":0.805,"z":14.72},{"m":76.7,"a":0.794,"z":14.72},{"m":76.18,"a":0.794,"z":14.72},{"m":75.14,"a":0.775,"z":14.72},{"m":74.62,"a":0.773,"z":14.72},{"m":72.89,"a":0.759,"z":14.72},{"m":72.29,"a":0.754,"z":14.72},{"m":73.67,"a":0.762,"z":14.72},{"m":75.75,"a":0.711,"z":14.72},{"m":76.01,"a":0.714,"z":14.72},{"m":75.4,"a":0.7,"z":14.72},{"m":76.35,"a":0.695,"z":14.72},{"m":75.83,"a":0.658,"z":14.72},{"m":76.27,"a":0.682,"z":14.72},{"m":74.97,"a":0.676,"z":14.72},{"m":74.45,"a":0.671,"z":14.72},{"m":74.02,"a":0.671,"z":14.72},{"m":73.07,"a":0.639,"z":14.72},{"m":72.72,"a":0.628,"z":14.72},{"m":72.03,"a":0.618,"z":14.72},{"m":71.51,"a":0.612,"z":14.72},{"m":72.11,"a":0.73,"z":14.72},
{"m":52.6,"a":0.14,"z":14.72},{"m":52.9,"a":0.115,"z":14.67},{"m":53.2,"a":0.125,"z":14.72},{"m":53.5,"a":0.115,"z":14.62},{"m":53.8,"a":0.12,"z":14.72},{"m":54.1,"a":0.125,"z":14.67},{"m":52.5,"a":0.165,"z":14.72},{"m":52.8,"a":0.145,"z":14.62},{"m":53.3,"a":0.135,"z":14.72},{"m":53.6,"a":0.135,"z":14.67},{"m":54.3,"a":0.135,"z":14.72},{"m":54.6,"a":0.14,"z":14.67},{"m":54.9,"a":0.165,"z":14.72},{"m":53,"a":0.17,"z":14.67},{"m":53.4,"a":0.16,"z":14.72},{"m":53.8,"a":0.17,"z":14.62},{"m":54.2,"a":0.18,"z":14.72},{"m":54.6,"a":0.185,"z":14.67},{"m":55,"a":0.195,"z":14.72},{"m":55.4,"a":0.19,"z":14.72},{"m":55.7,"a":0.185,"z":14.67},{"m":56.1,"a":0.195,"z":14.72},{"m":53.2,"a":0.19,"z":14.67},{"m":53.5,"a":0.2,"z":14.72},{"m":53.8,"a":0.21,"z":14.62},{"m":54.3,"a":0.205,"z":14.72},{"m":54.7,"a":0.205,"z":14.67},{"m":55.3,"a":0.21,"z":14.72},{"m":53.3,"a":0.215,"z":14.62},{"m":53.7,"a":0.23,"z":14.72},{"m":54,"a":0.25,"z":14.67},{"m":54.3,"a":0.27,"z":14.72},{"m":54.6,"a":0.28,"z":14.62},{"m":54.9,"a":0.27,"z":14.72},{"m":55.2,"a":0.255,"z":14.67},{"m":55.6,"a":0.26,"z":14.72},{"m":54.8,"a":0.295,"z":14.72},{"m":55.1,"a":0.3,"z":14.67},{"m":55.4,"a":0.33,"z":14.72},{"m":55.7,"a":0.34,"z":14.62},
{"m":54,"a":0.205,"z":14.77},{"m":54.4,"a":0.21,"z":14.77},{"m":54.9,"a":0.235,"z":14.77},{"m":55.3,"a":0.25,"z":14.77},{"m":54.8,"a":0.265,"z":14.77},{"m":55.5,"a":0.29,"z":14.77},{"m":55.9,"a":0.31,"z":14.77},{"m":54.5,"a":0.185,"z":14.77},{"m":53.9,"a":0.185,"z":14.77},{"m":53.4,"a":0.175,"z":14.77},
{"m":53.58,"a":0.19,"z":14.77},{"m":52.82,"a":0.163,"z":14.77},{"m":53.07,"a":0.118,"z":14.77},{"m":52.65,"a":0.12,"z":14.77},{"m":53.93,"a":0.166,"z":14.77},{"m":54.69,"a":0.171,"z":14.77},{"m":53.24,"a":0.145,"z":14.77},{"m":54.44,"a":0.169,"z":14.77},{"m":55.46,"a":0.174,"z":14.77},{"m":56.06,"a":0.179,"z":14.77},{"m":55.12,"a":0.195,"z":14.77},{"m":55.63,"a":0.211,"z":14.77},{"m":55.89,"a":0.198,"z":14.77},{"m":55.29,"a":0.227,"z":14.77},{"m":54.78,"a":0.219,"z":14.77},{"m":54.27,"a":0.222,"z":14.77},{"m":54.61,"a":0.238,"z":14.77},{"m":55.63,"a":0.222,"z":14.77},{"m":57.17,"a":0.222,"z":14.77},{"m":55.12,"a":0.244,"z":14.77},{"m":55.46,"a":0.265,"z":14.77},{"m":55.8,"a":0.276,"z":14.77},{"m":55.12,"a":0.281,"z":14.77},{"m":55.63,"a":0.281,"z":14.77},{"m":56.15,"a":0.297,"z":14.77},{"m":56.49,"a":0.308,"z":14.77},{"m":56.83,"a":0.302,"z":14.77},{"m":55.97,"a":0.313,"z":14.77},{"m":55.46,"a":0.302,"z":14.77},{"m":55.8,"a":0.324,"z":14.77},{"m":56.32,"a":0.356,"z":14.77},{"m":56.57,"a":0.359,"z":14.77},{"m":56.66,"a":0.34,"z":14.77},{"m":57.51,"a":0.276,"z":14.77},{"m":57.77,"a":0.265,"z":14.77},{"m":58.19,"a":0.297,"z":14.77},{"m":58.02,"a":0.308,"z":14.77},{"m":58.71,"a":0.313,"z":14.77},{"m":57.17,"a":0.34,"z":14.77},{"m":57.68,"a":0.329,"z":14.77},{"m":57.34,"a":0.367,"z":14.77},{"m":57.68,"a":0.375,"z":14.77},{"m":58.19,"a":0.361,"z":14.77},{"m":58.71,"a":0.356,"z":14.77},{"m":59.22,"a":0.345,"z":14.77},{"m":59.3,"a":0.367,"z":14.77},{"m":59.9,"a":0.324,"z":14.77},{"m":60.41,"a":0.356,"z":14.77},{"m":60.92,"a":0.361,"z":14.77},{"m":58.36,"a":0.399,"z":14.77},{"m":58.02,"a":0.404,"z":14.77},{"m":57.51,"a":0.393,"z":14.77},{"m":58.54,"a":0.452,"z":14.77},{"m":59.22,"a":0.474,"z":14.77},{"m":60.07,"a":0.479,"z":14.77},{"m":59.99,"a":0.44,"z":14.77},
{"m":59.21,"a":0.484,"z":14.77},{"m":58.87,"a":0.474,"z":14.77},{"m":60.41,"a":0.511,"z":14.77},{"m":61.52,"a":0.543,"z":14.77},{"m":62.54,"a":0.565,"z":14.77},{"m":63.06,"a":0.581,"z":14.77},{"m":65.36,"a":0.629,"z":14.77},{"m":65.7,"a":0.64,"z":14.77},{"m":66.73,"a":0.661,"z":14.77},{"m":60.41,"a":0.393,"z":14.77},{"m":61.6,"a":0.409,"z":14.77},{"m":62.63,"a":0.425,"z":14.77},{"m":63.31,"a":0.441,"z":14.77},{"m":64.16,"a":0.45,"z":14.77},{"m":65.02,"a":0.479,"z":14.77},{"m":63.99,"a":0.431,"z":14.77},{"m":66.04,"a":0.492,"z":14.77},{"m":66.21,"a":0.511,"z":14.77},{"m":67.58,"a":0.533,"z":14.77},{"m":68.26,"a":0.538,"z":14.77},{"m":69.46,"a":0.57,"z":14.77},{"m":69.71,"a":0.567,"z":14.77},{"m":70.48,"a":0.586,"z":14.77},{"m":70.82,"a":0.575,"z":14.77},{"m":60.07,"a":0.367,"z":14.77},{"m":59.21,"a":0.356,"z":14.77},{"m":61.09,"a":0.372,"z":14.77},
{"m":78.26,"a":0.791,"z":14.77},{"m":78.86,"a":0.813,"z":14.77},{"m":79.47,"a":0.81,"z":14.77},{"m":79.99,"a":0.821,"z":14.77},{"m":79.29,"a":0.818,"z":14.77},{"m":80.59,"a":0.813,"z":14.77},{"m":81.2,"a":0.826,"z":14.77},{"m":81.72,"a":0.826,"z":14.77},{"m":82.06,"a":0.813,"z":14.77},{"m":82.49,"a":0.834,"z":14.77},{"m":82.93,"a":0.824,"z":14.77},{"m":83.36,"a":0.821,"z":14.77},{"m":83.88,"a":0.818,"z":14.77},{"m":84.22,"a":0.835,"z":14.77},{"m":78.43,"a":0.775,"z":14.77},{"m":79.12,"a":0.762,"z":14.77},{"m":79.81,"a":0.781,"z":14.77},{"m":80.25,"a":0.767,"z":14.77},{"m":81.2,"a":0.789,"z":14.77},{"m":81.54,"a":0.802,"z":14.77},{"m":77.82,"a":0.754,"z":14.77},{"m":77.22,"a":0.791,"z":14.77},{"m":76.7,"a":0.789,"z":14.77},{"m":75.75,"a":0.786,"z":14.77},{"m":76.18,"a":0.773,"z":14.77},{"m":77.82,"a":0.722,"z":14.77},{"m":77.05,"a":0.741,"z":14.77},{"m":78.6,"a":0.746,"z":14.77},{"m":79.26,"a":0.746,"z":14.77},{"m":73.33,"a":0.642,"z":14.77},{"m":73.84,"a":0.655,"z":14.77},{"m":74.71,"a":0.682,"z":14.77},{"m":75.14,"a":0.684,"z":14.77},{"m":72.03,"a":0.615,"z":14.77},{"m":71.25,"a":0.615,"z":14.77},{"m":73.85,"a":0.765,"z":14.77},{"m":75.66,"a":0.783,"z":14.77},
{"m":55.6,"a":0.245,"z":14.77},{"m":55.9,"a":0.255,"z":14.82},{"m":56.2,"a":0.262,"z":14.77},{"m":56.5,"a":0.27,"z":14.82},{"m":56.9,"a":0.285,"z":14.77},{"m":57.3,"a":0.29,"z":14.82},{"m":56.1,"a":0.285,"z":14.77},{"m":56.6,"a":0.315,"z":14.82},{"m":57,"a":0.335,"z":14.77},{"m":57.4,"a":0.35,"z":14.82},{"m":56,"a":0.34,"z":14.77},{"m":56.4,"a":0.335,"z":14.82},{"m":57.8,"a":0.345,"z":14.77},{"m":58.2,"a":0.33,"z":14.82},{"m":58.6,"a":0.325,"z":14.77},{"m":58.9,"a":0.32,"z":14.82},{"m":59.3,"a":0.33,"z":14.77},{"m":59.6,"a":0.34,"z":14.82},{"m":60.1,"a":0.345,"z":14.77},{"m":60.5,"a":0.34,"z":14.82},{"m":60.9,"a":0.345,"z":14.77},{"m":61.4,"a":0.36,"z":14.82},{"m":61.9,"a":0.385,"z":14.77},{"m":62.3,"a":0.395,"z":14.82},{"m":58.4,"a":0.36,"z":14.77},{"m":58.9,"a":0.37,"z":14.82},{"m":59.8,"a":0.36,"z":14.77},{"m":60.3,"a":0.365,"z":14.82},{"m":58.3,"a":0.415,"z":14.82},{"m":57.9,"a":0.42,"z":14.77},{"m":57.8,"a":0.395,"z":14.82},{"m":58.6,"a":0.44,"z":14.77},{"m":59,"a":0.465,"z":14.82},{"m":59.4,"a":0.47,"z":14.77},{"m":59.7,"a":0.49,"z":14.82},{"m":60.3,"a":0.5,"z":14.77},{"m":60.8,"a":0.51,"z":14.82},{"m":61.3,"a":0.53,"z":14.77},{"m":61.9,"a":0.54,"z":14.82},{"m":62.7,"a":0.57,"z":14.77},{"m":63.4,"a":0.57,"z":14.82},{"m":64.2,"a":0.595,"z":14.77},{"m":64.9,"a":0.61,"z":14.82},{"m":65.6,"a":0.63,"z":14.77},{"m":66.3,"a":0.645,"z":14.82},{"m":67.2,"a":0.665,"z":14.77},{"m":68.2,"a":0.68,"z":14.82},{"m":63,"a":0.43,"z":14.77},{"m":63.6,"a":0.445,"z":14.82},{"m":64.3,"a":0.46,"z":14.77},{"m":65,"a":0.465,"z":14.82},{"m":65.7,"a":0.47,"z":14.77},{"m":66.3,"a":0.49,"z":14.82},{"m":67,"a":0.505,"z":14.77},{"m":67.6,"a":0.52,"z":14.82},{"m":68.3,"a":0.53,"z":14.77},{"m":69,"a":0.55,"z":14.82},{"m":69.8,"a":0.565,"z":14.77},{"m":70.4,"a":0.58,"z":14.82},{"m":71.5,"a":0.6,"z":14.77},{"m":72.3,"a":0.62,"z":14.82},{"m":72.9,"a":0.63,"z":14.77},{"m":73.5,"a":0.65,"z":14.82},{"m":74.3,"a":0.66,"z":14.77},{"m":75,"a":0.69,"z":14.82},{"m":75.6,"a":0.7,"z":14.77},{"m":76.5,"a":0.72,"z":14.82},{"m":77.2,"a":0.73,"z":14.77},{"m":77.5,"a":0.79,"z":14.82},{"m":78,"a":0.795,"z":14.77},{"m":78.5,"a":0.81,"z":14.82},{"m":79,"a":0.825,"z":14.77},{"m":79.7,"a":0.82,"z":14.82},{"m":80.2,"a":0.815,"z":14.77},{"m":81,"a":0.8,"z":14.82},{"m":81.6,"a":0.81,"z":14.77},{"m":82.2,"a":0.81,"z":14.82},{"m":82.8,"a":0.81,"z":14.77},{"m":83.3,"a":0.81,"z":14.82},{"m":81.1,"a":0.815,"z":14.77},{"m":80.8,"a":0.78,"z":14.82},{"m":79.5,"a":0.76,"z":14.77},{"m":78.2,"a":0.76,"z":14.82},{"m":76.6,"a":0.75,"z":14.77},
{"m":56.2,"a":0.31,"z":14.82},{"m":56.5,"a":0.325,"z":14.77},{"m":56.9,"a":0.32,"z":14.82},{"m":57.1,"a":0.31,"z":14.82},{"m":57.5,"a":0.31,"z":14.77},{"m":57.9,"a":0.32,"z":14.82},{"m":58.3,"a":0.31,"z":14.82},{"m":58.6,"a":0.305,"z":14.77},{"m":59,"a":0.33,"z":14.82},{"m":56.7,"a":0.35,"z":14.82},{"m":57.1,"a":0.355,"z":14.77},{"m":57.6,"a":0.345,"z":14.82},{"m":58,"a":0.365,"z":14.82},{"m":58.3,"a":0.385,"z":14.77},{"m":58.6,"a":0.39,"z":14.82},{"m":58.1,"a":0.345,"z":14.82},{"m":58.5,"a":0.355,"z":14.77},{"m":59.1,"a":0.36,"z":14.82},{"m":59.5,"a":0.355,"z":14.82},{"m":59.9,"a":0.345,"z":14.77},{"m":60.2,"a":0.355,"z":14.82},{"m":60.7,"a":0.365,"z":14.82},{"m":61.3,"a":0.375,"z":14.77},{"m":61.7,"a":0.37,"z":14.82},{"m":62.1,"a":0.385,"z":14.82},{"m":56.9,"a":0.37,"z":14.77},{"m":57.3,"a":0.39,"z":14.82},{"m":57.7,"a":0.41,"z":14.82},{"m":58.1,"a":0.43,"z":14.77},{"m":58.5,"a":0.425,"z":14.82},{"m":58.9,"a":0.445,"z":14.82},{"m":59.1,"a":0.415,"z":14.77},{"m":59.3,"a":0.455,"z":14.82},{"m":57.1,"a":0.4,"z":14.82},{"m":57.6,"a":0.43,"z":14.77},
{"m":58.7,"a":0.385,"z":14.87},{"m":58.9,"a":0.41,"z":14.87},{"m":59.2,"a":0.385,"z":14.87},{"m":59.1,"a":0.37,"z":14.87},{"m":58.4,"a":0.405,"z":14.87},{"m":59.4,"a":0.38,"z":14.87},{"m":59.8,"a":0.385,"z":14.87},{"m":60.2,"a":0.39,"z":14.87},{"m":60.6,"a":0.39,"z":14.87},{"m":58.2,"a":0.375,"z":14.87},
{"m":61,"a":0.385,"z":14.82},{"m":61.8,"a":0.405,"z":14.77},{"m":62.4,"a":0.41,"z":14.82},{"m":62.9,"a":0.43,"z":14.72},{"m":63.2,"a":0.425,"z":14.77},{"m":63.5,"a":0.43,"z":14.82},{"m":63.9,"a":0.45,"z":14.77},{"m":64.3,"a":0.445,"z":14.67},{"m":64.6,"a":0.47,"z":14.82},{"m":64.9,"a":0.45,"z":14.77},{"m":65.2,"a":0.47,"z":14.72},{"m":65.5,"a":0.49,"z":14.82},{"m":65.8,"a":0.485,"z":14.77},{"m":66.1,"a":0.475,"z":14.67},{"m":66.4,"a":0.5,"z":14.82},{"m":66.7,"a":0.5,"z":14.77},{"m":66.9,"a":0.51,"z":14.72},{"m":67.3,"a":0.52,"z":14.77},{"m":67.7,"a":0.53,"z":14.82},{"m":68,"a":0.54,"z":14.77},{"m":68.4,"a":0.55,"z":14.82},{"m":68.7,"a":0.56,"z":14.67},{"m":69.3,"a":0.56,"z":14.77},{"m":69.6,"a":0.58,"z":14.82},{"m":70,"a":0.575,"z":14.77},{"m":70.3,"a":0.59,"z":14.72},{"m":70.7,"a":0.595,"z":14.82},{"m":71.1,"a":0.6,"z":14.77},{"m":71.6,"a":0.615,"z":14.82},{"m":71.9,"a":0.63,"z":14.72},{"m":72.2,"a":0.635,"z":14.82},{"m":72.6,"a":0.65,"z":14.77},{"m":73,"a":0.645,"z":14.82},{"m":73.3,"a":0.66,"z":14.67},{"m":73.7,"a":0.67,"z":14.82},{"m":74,"a":0.68,"z":14.77},{"m":74.4,"a":0.675,"z":14.82},{"m":74.7,"a":0.695,"z":14.82},{"m":75.1,"a":0.695,"z":14.77},{"m":75.4,"a":0.715,"z":14.82},{"m":75.8,"a":0.72,"z":14.87},{"m":76.2,"a":0.735,"z":14.82},{"m":76.6,"a":0.74,"z":14.87},
{"m":60.2,"a":0.51,"z":14.77},{"m":60.6,"a":0.525,"z":14.82},{"m":61.1,"a":0.515,"z":14.77},{"m":61.6,"a":0.525,"z":14.82},{"m":62,"a":0.55,"z":14.72},{"m":62.3,"a":0.56,"z":14.77},{"m":62.8,"a":0.58,"z":14.82},{"m":63.3,"a":0.59,"z":14.72},{"m":63.7,"a":0.6,"z":14.77},{"m":64,"a":0.6,"z":14.82},{"m":64.5,"a":0.6,"z":14.77},{"m":65,"a":0.62,"z":14.72},{"m":65.3,"a":0.62,"z":14.82},{"m":65.9,"a":0.645,"z":14.77},{"m":66.5,"a":0.655,"z":14.72},{"m":66.9,"a":0.66,"z":14.67},{"m":67.5,"a":0.67,"z":14.77},{"m":68,"a":0.67,"z":14.72},{"m":68.5,"a":0.695,"z":14.67},{"m":69,"a":0.695,"z":14.77},{"m":69.5,"a":0.71,"z":14.72},{"m":70,"a":0.72,"z":14.67},{"m":70.5,"a":0.73,"z":14.77},{"m":71,"a":0.735,"z":14.72},{"m":71.5,"a":0.745,"z":14.67},{"m":72,"a":0.745,"z":14.77},{"m":72.5,"a":0.755,"z":14.67},{"m":73,"a":0.765,"z":14.72},{"m":73.5,"a":0.77,"z":14.77},{"m":74,"a":0.775,"z":14.62},{"m":74.5,"a":0.78,"z":14.77},{"m":75,"a":0.79,"z":14.67},{"m":75.5,"a":0.785,"z":14.72},
{"m":77.1,"a":0.755,"z":14.82},{"m":77.6,"a":0.745,"z":14.77},{"m":78,"a":0.735,"z":14.82},{"m":78.3,"a":0.77,"z":14.87},{"m":78.7,"a":0.755,"z":14.77},{"m":79.2,"a":0.78,"z":14.82},{"m":79.6,"a":0.79,"z":14.87},{"m":79.9,"a":0.77,"z":14.82},{"m":80.1,"a":0.78,"z":14.77},{"m":80.4,"a":0.78,"z":14.87},{"m":80.7,"a":0.795,"z":14.82},{"m":80.9,"a":0.79,"z":14.77},{"m":81.2,"a":0.805,"z":14.87},{"m":81.5,"a":0.815,"z":14.82},{"m":81.9,"a":0.805,"z":14.77},{"m":82.3,"a":0.82,"z":14.82},{"m":82.7,"a":0.83,"z":14.77},{"m":83.1,"a":0.835,"z":14.72},{"m":83.4,"a":0.83,"z":14.82},{"m":81,"a":0.835,"z":14.77},{"m":80.4,"a":0.825,"z":14.82},{"m":79.9,"a":0.835,"z":14.72},{"m":79.2,"a":0.83,"z":14.77},{"m":78.6,"a":0.795,"z":14.82},{"m":78,"a":0.81,"z":14.77},{"m":77.6,"a":0.8,"z":14.82},{"m":77.2,"a":0.805,"z":14.72},{"m":76.6,"a":0.775,"z":14.82},{"m":76.3,"a":0.76,"z":14.77},
{"m":57.34,"a":0.318,"z":14.82},{"m":56.83,"a":0.313,"z":14.82},{"m":57.51,"a":0.34,"z":14.82},{"m":58.02,"a":0.351,"z":14.82},{"m":58.54,"a":0.34,"z":14.82},{"m":58.88,"a":0.351,"z":14.82},{"m":57.85,"a":0.361,"z":14.82},{"m":58.54,"a":0.377,"z":14.82},{"m":59.05,"a":0.383,"z":14.82},{"m":59.56,"a":0.367,"z":14.82},{"m":59.73,"a":0.345,"z":14.82},{"m":60.07,"a":0.377,"z":14.82},{"m":60.58,"a":0.377,"z":14.82},{"m":61.1,"a":0.377,"z":14.82},{"m":61.61,"a":0.388,"z":14.82},{"m":58.88,"a":0.399,"z":14.82},{"m":59.22,"a":0.404,"z":14.82},{"m":58.71,"a":0.409,"z":14.82},{"m":58.02,"a":0.383,"z":14.82},{"m":57.34,"a":0.377,"z":14.82},{"m":57.51,"a":0.361,"z":14.82},{"m":56.83,"a":0.329,"z":14.82},{"m":56.32,"a":0.324,"z":14.82},{"m":55.97,"a":0.297,"z":14.82},{"m":56.49,"a":0.286,"z":14.82},{"m":57.17,"a":0.302,"z":14.82},{"m":57.68,"a":0.297,"z":14.82},{"m":59.39,"a":0.431,"z":14.82},{"m":58.88,"a":0.431,"z":14.82},{"m":59.56,"a":0.452,"z":14.82},{"m":60.07,"a":0.409,"z":14.82},{"m":60.92,"a":0.399,"z":14.82},{"m":61.95,"a":0.399,"z":14.82},{"m":62.63,"a":0.409,"z":14.82},{"m":60.41,"a":0.399,"z":14.82},{"m":59.73,"a":0.393,"z":14.82},{"m":60.75,"a":0.522,"z":14.82},{"m":62.29,"a":0.551,"z":14.82},{"m":63.48,"a":0.586,"z":14.82},{"m":66.21,"a":0.65,"z":14.82},{"m":59.9,"a":0.399,"z":14.82},{"m":61.09,"a":0.399,"z":14.82},{"m":62.12,"a":0.415,"z":14.82},{"m":63.82,"a":0.458,"z":14.82},{"m":64.51,"a":0.463,"z":14.82},{"m":65.53,"a":0.479,"z":14.82},{"m":66.55,"a":0.506,"z":14.82},{"m":68.77,"a":0.554,"z":14.82},{"m":70.99,"a":0.597,"z":14.82},{"m":59.56,"a":0.372,"z":14.82},{"m":60.58,"a":0.356,"z":14.82},{"m":58.7,"a":0.345,"z":14.82},{"m":61.6,"a":0.388,"z":14.82},
{"m":78.43,"a":0.789,"z":14.82},{"m":78.78,"a":0.8,"z":14.82},{"m":79.12,"a":0.789,"z":14.82},{"m":78.6,"a":0.778,"z":14.82},{"m":79.29,"a":0.805,"z":14.82},{"m":79.81,"a":0.81,"z":14.82},{"m":80.16,"a":0.799,"z":14.82},{"m":79.81,"a":0.789,"z":14.82},{"m":80.5,"a":0.799,"z":14.82},{"m":80.68,"a":0.813,"z":14.82},{"m":79.12,"a":0.77,"z":14.82},{"m":78.08,"a":0.781,"z":14.82},{"m":77.74,"a":0.77,"z":14.82},{"m":77.22,"a":0.775,"z":14.82},{"m":76.96,"a":0.765,"z":14.82},{"m":77.39,"a":0.757,"z":14.82},{"m":77.91,"a":0.746,"z":14.82},{"m":78.78,"a":0.767,"z":14.82},{"m":79.64,"a":0.775,"z":14.82},{"m":80.33,"a":0.765,"z":14.82},{"m":80.94,"a":0.81,"z":14.82},{"m":81.37,"a":0.821,"z":14.82},{"m":81.8,"a":0.821,"z":14.82},{"m":82.24,"a":0.829,"z":14.82},{"m":82.58,"a":0.821,"z":14.82},{"m":83.1,"a":0.826,"z":14.82},{"m":74.1,"a":0.668,"z":14.82},{"m":72.55,"a":0.639,"z":14.82},
{"m":59.05,"a":0.388,"z":14.87},{"m":58.79,"a":0.391,"z":14.87},{"m":59.3,"a":0.396,"z":14.87},{"m":59.56,"a":0.399,"z":14.87},{"m":58.19,"a":0.393,"z":14.87},{"m":58.7,"a":0.42,"z":14.87},{"m":58.53,"a":0.399,"z":14.87},{"m":59.04,"a":0.377,"z":14.87},{"m":79.81,"a":0.799,"z":14.87},{"m":80.33,"a":0.791,"z":14.87},{"m":81.37,"a":0.8,"z":14.87},{"m":77.39,"a":0.765,"z":14.87},{"m":77.05,"a":0.778,"z":14.87},
{"m":60.3,"a":0.43,"z":14.82},{"m":60.6,"a":0.45,"z":14.82},{"m":60.9,"a":0.43,"z":14.82},{"m":61.2,"a":0.47,"z":14.82},{"m":61.5,"a":0.44,"z":14.82},{"m":61.8,"a":0.5,"z":14.82},{"m":61.9,"a":0.46,"z":14.82},{"m":62.2,"a":0.45,"z":14.82},{"m":62.5,"a":0.47,"z":14.82},{"m":62.8,"a":0.52,"z":14.82},{"m":63,"a":0.48,"z":14.82},{"m":63.4,"a":0.5,"z":14.82},{"m":63.7,"a":0.48,"z":14.82},{"m":64.1,"a":0.5,"z":14.82},{"m":64.4,"a":0.52,"z":14.82},{"m":64.8,"a":0.51,"z":14.82},{"m":65.2,"a":0.515,"z":14.82},{"m":65.6,"a":0.53,"z":14.82},{"m":66.1,"a":0.54,"z":14.82},{"m":66.5,"a":0.55,"z":14.82},{"m":67,"a":0.565,"z":14.82},{"m":67.6,"a":0.575,"z":14.82},{"m":68.2,"a":0.59,"z":14.82},{"m":68.8,"a":0.6,"z":14.82},{"m":69.5,"a":0.615,"z":14.82},{"m":70.2,"a":0.63,"z":14.82},{"m":71,"a":0.65,"z":14.82},{"m":72,"a":0.665,"z":14.82},{"m":73,"a":0.69,"z":14.82},{"m":74,"a":0.705,"z":14.82},{"m":75,"a":0.72,"z":14.82},{"m":75.5,"a":0.745,"z":14.82},{"m":76,"a":0.755,"z":14.82},{"m":74.5,"a":0.75,"z":14.82},{"m":73.2,"a":0.735,"z":14.82},{"m":71.8,"a":0.725,"z":14.82},{"m":70.5,"a":0.705,"z":14.82},{"m":69.2,"a":0.68,"z":14.82},{"m":63.2,"a":0.56,"z":14.82},{"m":62.4,"a":0.53,"z":14.82},{"m":61.4,"a":0.49,"z":14.82},{"m":60.5,"a":0.475,"z":14.82},
{"m":62.12,"a":0.49,"z":14.92},{"m":62.63,"a":0.506,"z":14.92},{"m":63.14,"a":0.527,"z":14.92},{"m":63.5,"a":0.54,"z":14.92},{"m":63.9,"a":0.53,"z":14.92},{"m":64.2,"a":0.552,"z":14.92},{"m":64.6,"a":0.54,"z":14.92},{"m":65.02,"a":0.559,"z":14.92},{"m":65.36,"a":0.581,"z":14.92},{"m":65.1,"a":0.59,"z":14.92},{"m":65.6,"a":0.56,"z":14.92},{"m":65.9,"a":0.575,"z":14.92},{"m":66.1,"a":0.595,"z":14.92},{"m":66.4,"a":0.58,"z":14.92},{"m":66.6,"a":0.61,"z":14.92},{"m":66.9,"a":0.595,"z":14.92},{"m":67.1,"a":0.62,"z":14.92},{"m":67.4,"a":0.6,"z":14.92},{"m":67.6,"a":0.63,"z":14.92},{"m":67.9,"a":0.61,"z":14.92},{"m":68.1,"a":0.635,"z":14.92},{"m":68.4,"a":0.62,"z":14.92},{"m":68.6,"a":0.65,"z":14.92},{"m":68.9,"a":0.63,"z":14.92},{"m":69.1,"a":0.655,"z":14.92},{"m":69.4,"a":0.64,"z":14.92},{"m":69.6,"a":0.665,"z":14.92},{"m":69.9,"a":0.65,"z":14.92},{"m":70.1,"a":0.68,"z":14.92},{"m":70.4,"a":0.66,"z":14.92},{"m":70.7,"a":0.685,"z":14.92},{"m":71,"a":0.67,"z":14.92},{"m":71.3,"a":0.695,"z":14.92},{"m":71.6,"a":0.68,"z":14.92},{"m":71.9,"a":0.705,"z":14.92},{"m":72.3,"a":0.69,"z":14.92},{"m":72.6,"a":0.715,"z":14.92},{"m":73,"a":0.705,"z":14.92},{"m":73.4,"a":0.72,"z":14.92},{"m":73.8,"a":0.73,"z":14.92},{"m":74.2,"a":0.735,"z":14.92},{"m":64.8,"a":0.58,"z":14.92},{"m":64.3,"a":0.57,"z":14.92},{"m":63.6,"a":0.56,"z":14.92},{"m":67.3,"a":0.64,"z":14.92},{"m":68.3,"a":0.66,"z":14.92},{"m":62.9,"a":0.545,"z":14.92},{"m":66.3,"a":0.555,"z":14.92},{"m":67.2,"a":0.585,"z":14.92},{"m":65.7,"a":0.61,"z":14.92}
]
},
"hconcat":[
{"bounds":"flush","spacing":35,"vconcat":[
{"width":823,"height":506,
"encoding":{"x":{"field":"m","type":"quantitative","scale":{"domain":[50,92.17],"nice":false,"zero":false},"axis":{"values":[60,80],"labels":false,"title":null}},"y":{"field":"c","type":"quantitative","stack":null,"scale":{"domain":[0,1241],"nice":false},"axis":null}},
"layer":[
{"data":{"name":"histM"},"mark":{"type":"area","interpolate":"step-after","fill":"#87ceeb","clip":true}},
{"data":{"name":"histM"},"mark":{"type":"line","interpolate":"step-after","stroke":"black","strokeWidth":5.5,"clip":true}},
{"data":{"values":[{"c":0}]},"mark":{"type":"rule","stroke":"black","strokeWidth":4},"encoding":{"x":null}},
{"data":{"values":[{"m":54.6},{"m":66.53},{"m":78.6}]},"mark":{"type":"rule","stroke":"#800080","strokeWidth":5.5,"strokeDash":[20,9]},"encoding":{"y":null}},
{"data":{"values":[{"m":70}]},"mark":{"type":"rule","stroke":"#00008b","strokeWidth":4},"encoding":{"y":null}},
{"data":{"values":[{"m":50,"c":1324,"t":"M"}]},"mark":{"type":"text","align":"left","baseline":"alphabetic","fontSize":66,"fontStyle":"italic"},"encoding":{"text":{"field":"t"}}},
{"data":{"values":[{"m":53.17,"c":1293,"t":"f"}]},"mark":{"type":"text","align":"left","baseline":"alphabetic","fontSize":46,"fontStyle":"italic"},"encoding":{"text":{"field":"t"}}},
{"data":{"values":[{"m":54.9,"c":1324,"t":"= 67"}]},"mark":{"type":"text","align":"left","baseline":"alphabetic","fontSize":66},"encoding":{"text":{"field":"t"}}},
{"data":{"values":[{"m":63.35,"c":1389,"t":"+12"},{"m":63.35,"c":1279,"t":"−12"}]},"mark":{"type":"text","align":"left","baseline":"alphabetic","fontSize":46},"encoding":{"text":{"field":"t"}}}
]},
{"bounds":"flush","spacing":34,"hconcat":[
{"width":823,"height":845,
"encoding":{"x":{"field":"m","type":"quantitative","scale":{"domain":[50,92.17],"nice":false,"zero":false},"axis":{"values":[60,80],"format":"d","title":null,"labelFontSize":60}},"y":{"field":"a","type":"quantitative","scale":{"domain":[-0.466,0.89],"nice":false,"zero":false},"axis":{"values":[-0.4,-0.2,0,0.2,0.4,0.6,0.8],"format":".1f","title":null,"labelFontSize":60,"labelOffset":3}}},
"layer":[
{"data":{"name":"core"},"mark":{"type":"area","fill":"#ce6dbd","clip":true},"encoding":{"y2":{"field":"hi"}}},
{"data":{"name":"pts"},"mark":{"type":"circle","size":38,"opacity":1,"clip":true},"encoding":{"color":{"field":"z","type":"quantitative","legend":null,"scale":{"type":"quantize","domain":[13.948,14.942],"range":["#393b79","#5254a3","#6b6ecf","#9c9ede","#637939","#8ca252","#b5cf6b","#cedb9c","#8c6d31","#bd9e39","#e7ba52","#e7cb94","#843c39","#ad494a","#d6616b","#e7969c","#7b4173","#a55194","#ce6dbd","#de9ed6"]}}}},
{"data":{"name":"outer"},"mark":{"type":"line","stroke":"black","strokeWidth":5.5,"clip":true},"encoding":{"order":{"field":"i"}}},
{"data":{"name":"inner"},"mark":{"type":"line","stroke":"black","strokeWidth":6,"clip":true},"encoding":{"order":{"field":"i"}}},
{"data":{"values":[{"m":70}]},"mark":{"type":"rule","stroke":"#00008b","strokeWidth":4},"encoding":{"y":null}},
{"data":{"values":[{"a":0.65}]},"mark":{"type":"rule","stroke":"#00008b","strokeWidth":4},"encoding":{"x":null}},
{"data":{"values":[{"m":68.28,"a":0.576,"t":"50%"}]},"mark":{"type":"text","angle":330,"fontSize":30,"align":"center","baseline":"middle"},"encoding":{"text":{"field":"t"}}},
{"data":{"values":[{"m":76.37,"a":0.685,"t":"90%"}]},"mark":{"type":"text","angle":336,"fontSize":30,"align":"center","baseline":"middle"},"encoding":{"text":{"field":"t"}}},
{"data":{"values":[{"m":68.54,"a":-0.7083,"t":"M"}]},"mark":{"type":"text","align":"left","baseline":"alphabetic","fontSize":84,"fontStyle":"italic"},"encoding":{"text":{"field":"t"}}},
{"data":{"values":[{"m":72.32,"a":-0.7276,"t":"f"}]},"mark":{"type":"text","align":"left","baseline":"alphabetic","fontSize":59,"fontStyle":"italic"},"encoding":{"text":{"field":"t"}}},
{"data":{"values":[{"m":40.3,"a":0.15,"t":"a"}]},"mark":{"type":"text","angle":270,"align":"left","baseline":"alphabetic","fontSize":84,"fontStyle":"italic"},"encoding":{"text":{"field":"t"}}},
{"data":{"values":[{"m":40.9,"a":0.2355,"t":"f"}]},"mark":{"type":"text","angle":270,"align":"left","baseline":"alphabetic","fontSize":59,"fontStyle":"italic"},"encoding":{"text":{"field":"t"}}}
]},
{"width":493,"height":845,
"encoding":{"x":{"field":"c","type":"quantitative","stack":null,"scale":{"domain":[0,1246],"nice":false},"axis":null},"y":{"field":"a","type":"quantitative","scale":{"domain":[-0.466,0.89],"nice":false,"zero":false},"axis":{"values":[-0.4,-0.2,0,0.2,0.4,0.6,0.8],"labels":false,"title":null}}},
"layer":[
{"data":{"name":"histA"},"mark":{"type":"area","orient":"horizontal","interpolate":"step-after","fill":"#87ceeb","clip":true}},
{"data":{"name":"histA"},"mark":{"type":"line","orient":"horizontal","interpolate":"step-before","stroke":"black","strokeWidth":5.5,"clip":true},"encoding":{"order":{"field":"a"}}},
{"data":{"values":[{"c":0}]},"mark":{"type":"rule","stroke":"black","strokeWidth":4},"encoding":{"y":null}},
{"data":{"values":[{"a":0.778},{"a":0.584},{"a":0.187}]},"mark":{"type":"rule","stroke":"#800080","strokeWidth":5.5,"strokeDash":[20,9]},"encoding":{"x":null}},
{"data":{"values":[{"a":0.65}]},"mark":{"type":"rule","stroke":"#00008b","strokeWidth":4},"encoding":{"x":null}},
{"data":{"values":[{"c":1361,"a":0.9225,"t":"a"}]},"mark":{"type":"text","angle":90,"align":"left","baseline":"alphabetic","fontSize":64,"fontStyle":"italic"},"encoding":{"text":{"field":"t"}}},
{"data":{"values":[{"c":1331,"a":0.8567,"t":"f"}]},"mark":{"type":"text","angle":90,"align":"left","baseline":"alphabetic","fontSize":46,"fontStyle":"italic"},"encoding":{"text":{"field":"t"}}},
{"data":{"values":[{"c":1361,"a":0.789,"t":"= 0.58"}]},"mark":{"type":"text","angle":90,"align":"left","baseline":"alphabetic","fontSize":64},"encoding":{"text":{"field":"t"}}},
{"data":{"values":[{"c":1432,"a":0.4313,"t":"+0.19"},{"c":1316,"a":0.4313,"t":"−0.40"}]},"mark":{"type":"text","angle":90,"align":"left","baseline":"alphabetic","fontSize":45},"encoding":{"text":{"field":"t"}}}
]}
]}
]},
{"width":40,"height":1386,"view":{"stroke":null},
"encoding":{"y":{"field":"lo","type":"quantitative","scale":{"domain":[13.9589,14.9167],"nice":false,"zero":false},"axis":{"orient":"right","values":[14,14.2,14.4,14.6,14.8],"format":".1f","title":null,"labelFontSize":62,"labelPadding":12,"labelOffset":4}},"y2":{"field":"hi"}},
"layer":[
{"data":{"name":"bands"},"mark":{"type":"rect"},"encoding":{"fill":{"field":"z","type":"quantitative","legend":null,"scale":{"type":"quantize","domain":[13.948,14.942],"range":["#393b79","#5254a3","#6b6ecf","#9c9ede","#637939","#8ca252","#b5cf6b","#cedb9c","#8c6d31","#bd9e39","#e7ba52","#e7cb94","#843c39","#ad494a","#d6616b","#e7969c","#7b4173","#a55194","#ce6dbd","#de9ed6"]}}}},
{"data":{"values":[{"lo":13.948,"hi":14.942}]},"mark":{"type":"rect","fillOpacity":0,"stroke":"black","strokeWidth":2.5}}
]}
],
"config":{
"font":"DejaVu Sans",
"view":{"stroke":"black","strokeWidth":2.5},
"axis":{"domain":false,"grid":false,"tickColor":"black","tickWidth":2,"tickSize":9,"labelColor":"black","labelFont":"DejaVu Sans","labelFontSize":58,"labelPadding":8,"labelOverlap":false,"labelBound":false,"labelFlush":false},
"text":{"font":"DejaVu Sans","color":"black"}
}
}
